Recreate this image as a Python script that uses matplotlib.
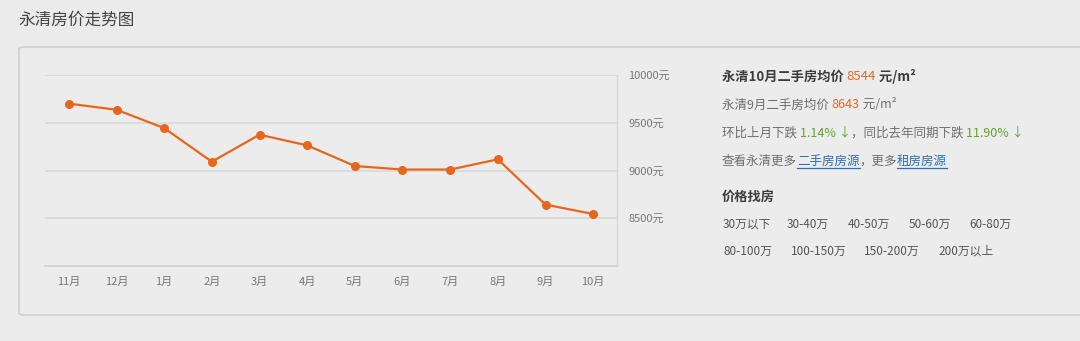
import matplotlib
matplotlib.use("Agg")
import matplotlib.pyplot as plt
from matplotlib.patches import FancyBboxPatch

plt.rcParams['font.family'] = ['Noto Sans CJK SC', 'DejaVu Sans']

# data
months = ['11月', '12月', '1月', '2月', '3月', '4月', '5月', '6月', '7月', '8月', '9月', '10月']
prices = [9700, 9636, 9444, 9092, 9375, 9263, 9047, 9010, 9010, 9117, 8643, 8544]
y_ticks = [8500, 9000, 9500, 10000]
y_labels = [f'{v}元' for v in y_ticks]

row1 = ['30万以下', '30-40万', '40-50万', '50-60万', '60-80万']
row2 = ['80-100万', '100-150万', '150-200万', '200万以上']
row1_x = [723, 787, 848, 909, 969]
row2_x = [723, 791, 864, 938]

BG = '#ebebeb'
ORANGE = '#e8661c'
GREEN = '#5fa52c'
BLUE = '#2a6fb5'
DARK = '#3c3c3c'
GREY = '#6e6e6e'

W, H = 1080, 341
fig = plt.figure(figsize=(W / 100, H / 100), dpi=100)
fig.patch.set_facecolor(BG)


def px(x, y):
    # pixel coords (top-left origin) -> figure fraction
    return x / W, 1 - y / H


# title
fig.text(*px(18, 20), '永清房价走势图', fontsize=12, color='#444444', va='center', ha='left')

# outer box, kept below the axes
box = FancyBboxPatch(px(19, 315), (1100 - 19) / W, (315 - 47) / H,
                     boxstyle='round,pad=0,rounding_size=0.006',
                     transform=fig.transFigure, facecolor='#ececec',
                     edgecolor='#d0d0d0', linewidth=1.2, zorder=-1)
fig.patches.append(box)

# chart
ax = fig.add_axes([45 / W, 1 - 266 / H, (617 - 45) / W, (266 - 75) / H])
ax.set_facecolor('none')
x = list(range(len(months)))
ax.plot(x, prices, color=ORANGE, lw=1.6, marker='o', markersize=5.5,
        markerfacecolor=ORANGE, markeredgecolor=ORANGE, zorder=3)
ax.set_xlim(-0.5, len(months) - 0.5)
ax.set_ylim(8000, 10000)
ax.set_xticks(x)
ax.set_xticklabels(months)
ax.yaxis.tick_right()
ax.set_yticks(y_ticks)
ax.set_yticklabels(y_labels)
ax.tick_params(axis='both', length=0, labelsize=8, colors='#777777')
ax.tick_params(axis='x', pad=8)
ax.tick_params(axis='y', pad=8)
ax.grid(axis='y', color='#d8d8d8', lw=1.2)
ax.set_axisbelow(True)
for s in ['left', 'top']:
    ax.spines[s].set_visible(False)
ax.spines['bottom'].set_color('#cfcfcf')
ax.spines['bottom'].set_linewidth(1.2)
ax.spines['right'].set_color('#d6d6d6')
ax.spines['right'].set_linewidth(1.0)

renderer = fig.canvas.get_renderer()


def chain(x0, y0, parts, size=9.5):
    # place text pieces one after another, each with its own style
    xcur = x0
    for s, color, weight, underline in parts:
        t = fig.text(*px(xcur, y0), s, fontsize=size, color=color,
                     fontweight=weight, va='center', ha='left')
        bb = t.get_window_extent(renderer=renderer)
        if underline:
            yl = 1 - (y0 + 7) / H
            fig.add_artist(plt.Line2D([bb.x0 / W, bb.x1 / W], [yl, yl],
                                      transform=fig.transFigure, color=BLUE, lw=0.9))
        xcur = bb.x1


chain(722, 77, [('永清10月二手房均价 ', DARK, 'bold', False),
                ('8544', ORANGE, 'normal', False),
                (' 元/m²', DARK, 'bold', False)], size=9.5)
chain(722, 105, [('永清9月二手房均价 ', GREY, 'normal', False),
                 ('8643', ORANGE, 'normal', False),
                 (' 元/m²', GREY, 'normal', False)], size=9)
chain(722, 133, [('环比上月下跌 ', GREY, 'normal', False),
                 ('1.14% ↓', GREEN, 'normal', False),
                 ('，同比去年同期下跌 ', GREY, 'normal', False),
                 ('11.90% ↓', GREEN, 'normal', False)], size=9)
chain(722, 161, [('查看永清更多', GREY, 'normal', False),
                 ('二手房房源', BLUE, 'normal', True),
                 ('，更多', GREY, 'normal', False),
                 ('租房房源', BLUE, 'normal', True)], size=9)

fig.text(*px(722, 197), '价格找房', fontsize=9.5, color=DARK, fontweight='bold', va='center', ha='left')
for label, xp in zip(row1, row1_x):
    fig.text(*px(xp, 224), label, fontsize=8.5, color='#555555', va='center', ha='left')
for label, xp in zip(row2, row2_x):
    fig.text(*px(xp, 251), label, fontsize=8.5, color='#555555', va='center', ha='left')

fig.savefig('out.png', dpi=100, facecolor=BG)
